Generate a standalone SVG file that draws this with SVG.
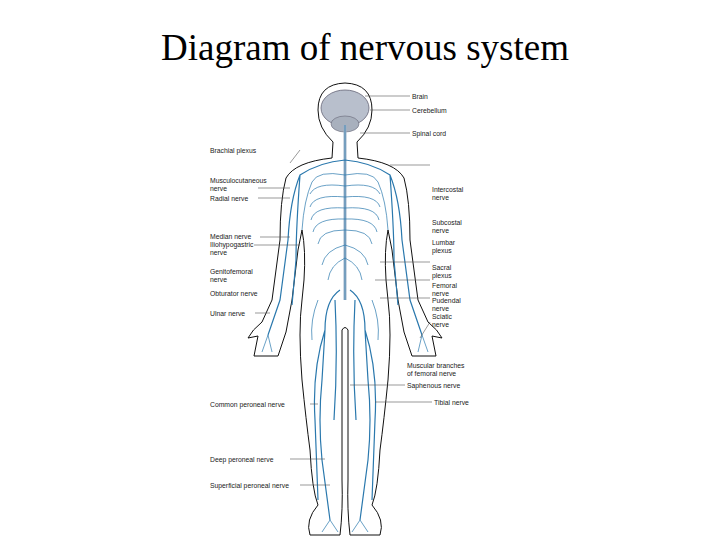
<svg xmlns="http://www.w3.org/2000/svg" width="720" height="540" viewBox="0 0 720 540">
<style>
.t{font-family:"Liberation Sans",Arial,sans-serif;font-size:6.8px;fill:#222}
.l{stroke:#555;stroke-width:0.6;fill:none}
.b{fill:none;stroke:#111;stroke-width:1}
.n{fill:none;stroke:#2a78ad;stroke-width:1.2}
.nt{fill:none;stroke:#2a78ad;stroke-width:0.7}
</style>
<rect width="720" height="540" fill="#fff"/>
<text x="365" y="60" text-anchor="middle" font-family="Liberation Serif,Times New Roman,serif" font-size="37" fill="#000">Diagram of nervous system</text>
<g id="body">
<path class="b" d="M333,142 Q318,128 318,110 Q318,84 345,83 Q372,84 372,110 Q372,128 357,142 L358,158 Q395,162 404,178 Q410,200 410,240 L418,300 L428,322 Q438,330 442,338 L432,336 L436,356 L412,356 L404,332 L398,300 L392,250 L388,230 Q384,250 386,280 L388,300 Q392,330 388,380 Q384,420 380,450 Q378,490 372,505 Q385,520 380,535 L350,535 Q347,510 348,480 L348,330 Q345,325 342,330 L342,480 Q343,510 340,535 L310,535 Q305,520 318,505 Q312,490 310,450 Q306,420 302,380 Q298,330 302,300 L304,280 Q306,250 302,230 L298,250 L292,300 L286,332 L278,356 L254,356 L258,336 L248,338 Q252,330 262,322 L272,300 L280,240 Q280,200 286,178 Q295,162 332,158 Z"/>
<ellipse cx="345" cy="108" rx="24" ry="18" fill="#b8bfcc" stroke="#667" stroke-width="0.8"/>
<ellipse cx="345" cy="124" rx="14" ry="8" fill="#a8b0bd" stroke="#667" stroke-width="0.6"/>
</g>
<g id="nerves">
<line x1="345" y1="125" x2="345" y2="300" stroke="#9fb3c8" stroke-width="3"/>
<line x1="345" y1="125" x2="345" y2="300" class="nt"/>
<path class="nt" d="M345,175 Q318,170 312,182 M345,186 Q316,182 310,194 M345,197 Q314,194 310,207 M345,208 Q314,206 311,220 M345,219 Q316,218 313,232 M345,230 Q320,230 318,244 M345,175 Q372,170 378,182 M345,186 Q374,182 380,194 M345,197 Q376,194 380,207 M345,208 Q376,206 379,220 M345,219 Q374,218 377,232 M345,230 Q370,230 372,244 M345,245 Q325,250 322,265 M345,245 Q365,250 368,265 M345,258 Q330,265 328,280 M345,258 Q360,265 362,280"/>
<path class="n" d="M345,160 Q320,162 300,175 Q290,200 288,240 L280,300 L268,335 M345,160 Q370,162 390,175 Q400,200 402,240 L410,300 L422,335 M300,175 Q296,230 296,260 L292,305 M390,175 Q394,230 394,260 L398,305 M340,290 Q325,300 325,330 L322,380 Q318,420 322,460 L330,520 M350,290 Q365,300 365,330 L368,380 Q372,420 368,460 L360,520 M325,330 Q312,370 315,420 L318,500 M365,330 Q378,370 375,420 L372,500 M335,300 Q338,360 334,420 M355,300 Q352,360 356,420"/>
<path class="nt" d="M312,182 Q304,200 302,230 M378,182 Q386,200 388,230 M268,335 L262,352 M268,335 L272,352 M422,335 L418,352 M422,335 L428,352 M330,520 L322,532 M330,520 L338,532 M360,520 L352,532 M360,520 L368,532 M318,300 Q310,320 312,340 M372,300 Q380,320 378,340"/>
</g>
<g id="connectors">
<path class="l" d="M365,96 H410 M370,110 H410 M360,133 H410 M390,165 H430 M290,163 L300,150 M258,188 H290 M258,198 H290 M260,237 H290 M254,245 H300 M380,262 H430 M375,280 H430 M380,298 H430 M255,313 H270 M420,338 L430,322 M350,385 H405 M375,402 H432 M310,404 H318 M290,459 H325 M300,485 H330"/>
</g>
<g id="labels">
<text class="t" x="412" y="99">Brain</text>
<text class="t" x="412" y="113">Cerebellum</text>
<text class="t" x="412" y="136">Spinal cord</text>
<text class="t" x="432" y="192">Intercostal</text><text class="t" x="432" y="200">nerve</text>
<text class="t" x="432" y="225">Subcostal</text><text class="t" x="432" y="233">nerve</text>
<text class="t" x="432" y="245">Lumbar</text><text class="t" x="432" y="253">plexus</text>
<text class="t" x="432" y="270">Sacral</text><text class="t" x="432" y="278">plexus</text>
<text class="t" x="432" y="288">Femoral</text><text class="t" x="432" y="296">nerve</text>
<text class="t" x="432" y="303">Pudendal</text><text class="t" x="432" y="311">nerve</text>
<text class="t" x="432" y="319">Sciatic</text><text class="t" x="432" y="327">nerve</text>
<text class="t" x="407" y="368">Muscular branches</text><text class="t" x="407" y="376">of femoral nerve</text>
<text class="t" x="407" y="388">Saphenous nerve</text>
<text class="t" x="434" y="405">Tibial nerve</text>
<text class="t" x="210" y="153">Brachial plexus</text>
<text class="t" x="210" y="183">Musculocutaneous</text><text class="t" x="210" y="191">nerve</text>
<text class="t" x="210" y="201">Radial nerve</text>
<text class="t" x="210" y="239">Median nerve</text>
<text class="t" x="210" y="247">Iliohypogastric</text><text class="t" x="210" y="255">nerve</text>
<text class="t" x="210" y="274">Genitofemoral</text><text class="t" x="210" y="282">nerve</text>
<text class="t" x="210" y="296">Obturator nerve</text>
<text class="t" x="210" y="316">Ulnar nerve</text>
<text class="t" x="210" y="407">Common peroneal nerve</text>
<text class="t" x="210" y="462">Deep peroneal nerve</text>
<text class="t" x="210" y="488">Superficial peroneal nerve</text>
</g>
</svg>
